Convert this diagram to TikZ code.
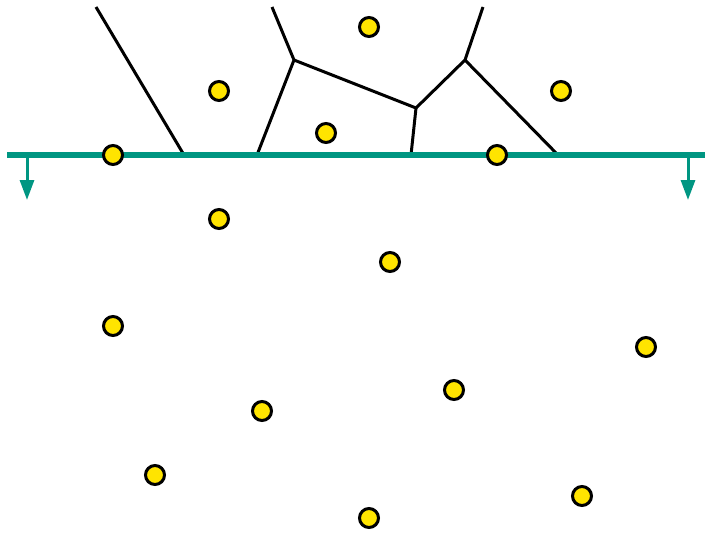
\documentclass[tikz,border=0pt]{standalone}
\usetikzlibrary{arrows.meta}
\definecolor{sweep}{RGB}{0,150,130}
\definecolor{site}{RGB}{255,228,0}
\begin{document}
\begin{tikzpicture}[x=1pt,y=-1pt,
  edge/.style={line width=3pt,black},
  sweepline/.style={line width=5.5pt,sweep},
  droparrow/.style={line width=3pt,sweep,-{Triangle[length=20pt,width=14pt]}},
  sitept/.style={circle,draw=black,fill=site,line width=3pt,minimum size=19pt,inner sep=0pt}]
\useasboundingbox (0,0) rectangle (705,533);
% Voronoi vertices and edge ends
\coordinate (va) at (294,60);
\coordinate (vb) at (416,108);
\coordinate (vc) at (465,60);
\coordinate (t1) at (96,7);
\coordinate (t2) at (272,7);
\coordinate (t3) at (483,7);
\coordinate (b1) at (184,155);
\coordinate (b2) at (257,155);
\coordinate (b3) at (411,155);
\coordinate (b4) at (558,155);
\draw[edge] (t1) -- (b1);
\draw[edge] (t2) -- (va) -- (b2);
\draw[edge] (va) -- (vb) -- (b3);
\draw[edge] (vb) -- (vc) -- (t3);
\draw[edge] (vc) -- (b4);
% sweep line
\coordinate (sl) at (7,155);
\coordinate (sr) at (705,155);
\coordinate (al) at (27,155);
\coordinate (ale) at (27,200);
\coordinate (ar) at (688,155);
\coordinate (are) at (688,200);
\draw[sweepline] (sl) -- (sr);
\draw[droparrow] (al) -- (ale);
\draw[droparrow] (ar) -- (are);
% sites
\node[sitept] (p1) at (369,27) {};
\node[sitept] (p2) at (219,91) {};
\node[sitept] (p3) at (561,91) {};
\node[sitept] (p4) at (326,133) {};
\node[sitept] (p5) at (113,155) {};
\node[sitept] (p6) at (497,155) {};
\node[sitept] (p7) at (219,219) {};
\node[sitept] (p8) at (390,262) {};
\node[sitept] (p9) at (113,326) {};
\node[sitept] (p10) at (646,347) {};
\node[sitept] (p11) at (454,390) {};
\node[sitept] (p12) at (262,411) {};
\node[sitept] (p13) at (155,475) {};
\node[sitept] (p14) at (582,496) {};
\node[sitept] (p15) at (369,518) {};
\end{tikzpicture}
\end{document}
